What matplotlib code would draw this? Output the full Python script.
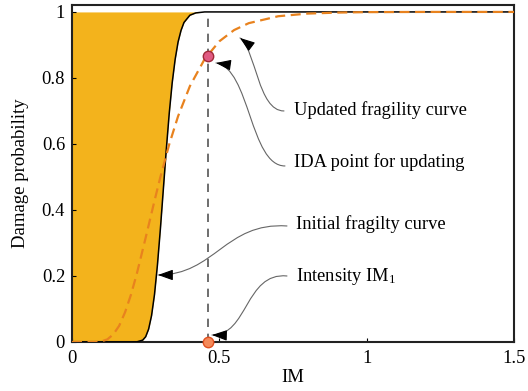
import matplotlib
matplotlib.use("Agg")
import matplotlib.pyplot as plt
from matplotlib.patches import FancyArrowPatch
from matplotlib.path import Path

plt.rcParams['font.family'] = ['Liberation Serif', 'DejaVu Serif']
plt.rcParams['mathtext.fontset'] = 'custom'
plt.rcParams['mathtext.rm'] = 'Liberation Serif'

# Initial fragility curve
init_x = [0.0, 0.20, 0.22, 0.24, 0.25, 0.26, 0.27, 0.28, 0.29, 0.30, 0.31, 0.32,
          0.33, 0.34, 0.35, 0.36, 0.37, 0.38, 0.40, 0.42, 0.45, 0.50, 1.50]
init_y = [0.0, 0.0, 0.0004, 0.0057, 0.016, 0.039, 0.080, 0.144, 0.234, 0.343, 0.463, 0.583,
          0.693, 0.785, 0.856, 0.909, 0.944, 0.968, 0.990, 0.997, 1.0, 1.0, 1.0]

# Updated fragility curve
upd_x = [0.0, 0.08, 0.10, 0.12, 0.14, 0.16, 0.18, 0.20, 0.22, 0.25, 0.28, 0.30, 0.33, 0.36,
         0.40, 0.45, 0.50, 0.55, 0.60, 0.70, 0.80, 0.90, 1.00, 1.20, 1.50]
upd_y = [0.0, 0.0003, 0.002, 0.008, 0.023, 0.049, 0.090, 0.143, 0.207, 0.316, 0.428, 0.500,
         0.599, 0.684, 0.775, 0.857, 0.911, 0.945, 0.966, 0.987, 0.995, 0.998, 0.9994, 1.0, 1.0]

im1 = 0.46
ida_point = (0.46, 0.865)
im_point = (0.46, 0.0)

x_ticks = [0, 0.5, 1, 1.5]
x_ticklabels = ['0', '0.5', '1', '1.5']
y_ticks = [0, 0.2, 0.4, 0.6, 0.8, 1.0]
y_ticklabels = ['0', '0.2', '0.4', '0.6', '0.8', '1']

fig = plt.figure(figsize=(5.28, 3.91), dpi=100)
ax = fig.add_axes([72/528, 1 - 342/391, 442/528, 337/391])

ax.fill_between(init_x, init_y, 1.0, color='#F3B31C', lw=0, zorder=1)
ax.plot(init_x, init_y, color='black', lw=1.1, zorder=3)
ax.plot(upd_x, upd_y, color='#E8821E', lw=1.6, ls=(0, (4.5, 2.5)), zorder=4)
ax.plot([im1, im1], [0, 1], color='#555555', lw=1.2, ls=(0, (5, 4)), zorder=2)

ax.plot(*ida_point, 'o', ms=7.5, mfc='#E05A82', mec='#A02838', mew=1.0, zorder=6, clip_on=False)
ax.plot(*im_point, 'o', ms=7.5, mfc='#F48A5A', mec='#E05020', mew=1.0, zorder=6, clip_on=False)

ax.set_xlim(0, 1.5)
ax.set_ylim(0, 1.021)
ax.set_xticks(x_ticks)
ax.set_xticklabels(x_ticklabels)
ax.set_yticks(y_ticks)
ax.set_yticklabels(y_ticklabels)
ax.tick_params(direction='in', length=3, labelsize=13.3, pad=6)
ax.tick_params(axis='y', pad=5)
for s in ax.spines.values():
    s.set_linewidth(1.5)
    s.set_color('#222222')

ax.set_xlabel('IM', fontsize=13.5, labelpad=1)
ax.set_ylabel('Damage probability', fontsize=13.5, labelpad=9)

# annotations: text + curved arrows
def px(xp, yp):
    return ((xp - 72) / 294.7, (342 - yp) / 330.0)

texts = [
    ('Updated fragility curve', (294, 110), [(284, 111), (258, 111), (256, 50), (240, 38)]),
    ('IDA point for updating', (294, 162), [(285, 166), (250, 166), (250, 68), (216, 63)]),
    ('Initial fragilty curve', (296, 224), [(287, 226), (225, 222), (215, 275), (158, 275)]),
    ('Intensity IM$\\mathregular{_1}$', (296, 277), [(287, 276), (245, 272), (248, 336), (212, 335)]),
]
for label, tpos, pts in texts:
    ax.text(*px(*tpos), label, fontsize=13.3, va='center', ha='left', zorder=7)
    verts = [px(*p) for p in pts]
    path = Path(verts, [Path.MOVETO, Path.CURVE4, Path.CURVE4, Path.CURVE4])
    line = FancyArrowPatch(path=path, arrowstyle='-', color='#666666', lw=0.8,
                           zorder=7, transform=ax.transData)
    ax.add_patch(line)
    # black arrow head at the tip, aligned with last segment direction
    (x2, y2), (x3, y3) = pts[2], pts[3]
    dx, dy = x3 - x2, y3 - y2
    n = (dx * dx + dy * dy) ** 0.5
    back = (x3 - dx / n * 9, y3 - dy / n * 9)
    ax.annotate('', xy=px(x3, y3), xytext=px(*back), xycoords='data', textcoords='data',
                arrowprops=dict(arrowstyle='-|>,head_length=0.7,head_width=0.25',
                                mutation_scale=13, color='black', lw=0.8,
                                shrinkA=0, shrinkB=0), zorder=8)

fig.savefig('out.png', dpi=100)
